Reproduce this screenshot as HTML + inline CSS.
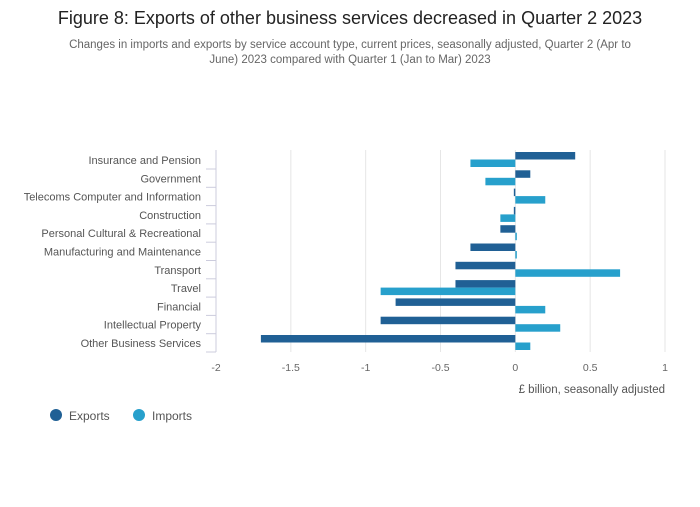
<!DOCTYPE html>
<html><head><meta charset="utf-8"><style>
body{margin:0;background:#fff;font-family:"Liberation Sans",sans-serif;}
svg text{font-family:"Liberation Sans",sans-serif;}
</style></head><body>
<svg id="c" width="700" height="502">
<text x="350" y="24" text-anchor="middle" font-size="18" fill="#222">Figure 8: Exports of other business services decreased in Quarter 2 2023</text>
<text x="350" y="48" text-anchor="middle" font-size="11.5" fill="#666">Changes in imports and exports by service account type, current prices, seasonally adjusted, Quarter 2 (Apr to</text>
<text x="350" y="63" text-anchor="middle" font-size="11.5" fill="#666">June) 2023 compared with Quarter 1 (Jan to Mar) 2023</text>
<g id="grid"></g><g id="bars"></g><g id="labels"></g>
<text x="665" y="393" text-anchor="end" font-size="11.5" fill="#555">£ billion, seasonally adjusted</text>
<circle cx="56" cy="415" r="6" fill="#206095"/>
<text x="69" y="420" font-size="12" fill="#555">Exports</text>
<circle cx="139" cy="415" r="6" fill="#27a0cc"/>
<text x="152" y="420" font-size="12" fill="#555">Imports</text>
</svg>
<script>
const categories=["Insurance and Pension","Government","Telecoms Computer and Information","Construction","Personal Cultural & Recreational","Manufacturing and Maintenance","Transport","Travel","Financial","Intellectual Property","Other Business Services"];
const exportsVals=[0.4,0.1,-0.01,-0.01,-0.1,-0.3,-0.4,-0.4,-0.8,-0.9,-1.7];
const importsVals=[-0.3,-0.2,0.2,-0.1,0.01,0.01,0.7,-0.9,0.2,0.3,0.1];
const ticks=[-2,-1.5,-1,-0.5,0,0.5,1];
const NS="http://www.w3.org/2000/svg";
const x=v=>216+(v+2)*(449/3);
const rowY=i=>160+i*18.3;
function mk(t,a,p){const e=document.createElementNS(NS,t);for(const k in a)e.setAttribute(k,a[k]);p.appendChild(e);return e;}
const g=document.getElementById('grid'),b=document.getElementById('bars'),l=document.getElementById('labels');
ticks.forEach(t=>{
 const ln=mk('line',{x1:x(t),x2:x(t),y1:150,y2:352,stroke:'#e6e6e6','stroke-width':1},g);
 
 
 const tx=mk('text',{x:x(t),y:371,'text-anchor':'middle','font-size':10.5,fill:'#666'},g);
 tx.textContent=String(t);
 
 
});
const ax=mk('line',{x1:216,x2:216,y1:150,y2:352,stroke:'#ccd','stroke-width':1},g);


categories.forEach((c,i)=>{
 const y=rowY(i);
 const tk=mk('line',{x1:206,x2:216,y1:y+9,y2:y+9,stroke:'#ccd'},g);
 
 
 const t=mk('text',{x:201,y:y+4,'text-anchor':'end','font-size':11,fill:'#555'},l);
 t.textContent=c;
 
 
 const e=exportsVals[i],m=importsVals[i];
 const r1=mk('rect',{x:Math.min(x(0),x(e)),y:y-8,width:Math.max(1,Math.abs(x(e)-x(0))),height:7.5,fill:'#206095'},b);
 
 
 const r2=mk('rect',{x:Math.min(x(0),x(m)),y:y-0.5,width:Math.max(1,Math.abs(x(m)-x(0))),height:7.5,fill:'#27a0cc'},b);
 
 
});
</script>
</body></html>
